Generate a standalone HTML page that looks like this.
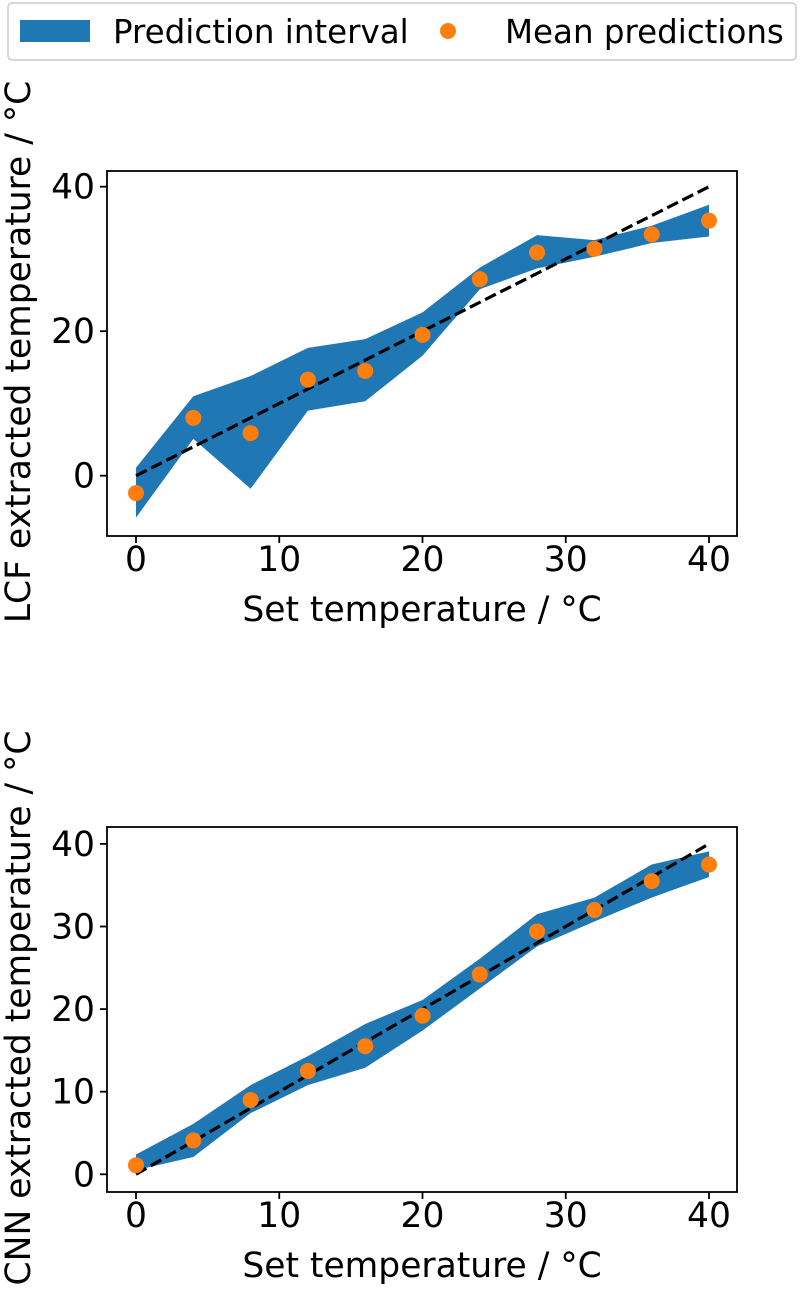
<!DOCTYPE html>
<html><head><meta charset="utf-8"><style>
body{margin:0;background:#fff;}
svg text{font-family:"DejaVu Sans","Liberation Sans",sans-serif;fill:#000;}
</style></head><body>
<svg id="chart" width="802" height="1293" xmlns="http://www.w3.org/2000/svg">
<g>
<rect x="8" y="3" width="788" height="57" rx="4" fill="#fff" stroke="#ccc" stroke-width="1.5"/>
<rect x="20" y="20" width="70" height="22" fill="#1f77b4"/>
<text x="113" y="43" font-size="32.5">Prediction interval</text>
<circle cx="448" cy="31" r="8" fill="#ff7f0e"/>
<text x="505" y="43" font-size="32.5">Mean predictions</text>
</g>
<g id="p1"></g>
<g id="p2"></g>
</svg>
<script>
const setTemps=[0,4,8,12,16,20,24,28,32,36,40];
const lcfMean=[-2.4,8.0,5.9,13.3,14.5,19.5,27.2,30.9,31.4,33.4,35.3];
const lcfUpper=[1.1,11.0,13.8,17.7,18.9,22.6,28.8,33.3,32.6,34.6,37.5];
const lcfLower=[-5.8,5.1,-1.8,9.0,10.3,16.6,25.8,28.7,30.3,32.2,33.1];
const cnnMean=[1.1,4.1,9.0,12.5,15.5,19.2,24.2,29.4,32.0,35.5,37.5];
const cnnUpper=[2.4,6.1,10.8,14.3,18.2,21.1,26.1,31.5,33.5,37.5,39.1];
const cnnLower=[0.5,2.1,7.4,10.8,12.9,17.4,22.5,27.6,30.6,33.5,36.0];
const xTicks=[0,10,20,30,40];
const lcfYTicks=[0,20,40];
const cnnYTicks=[0,10,20,30,40];
const NS="http://www.w3.org/2000/svg";
function mk(parent,tag,attrs){const e=document.createElementNS(NS,tag);for(const k in attrs)e.setAttribute(k,attrs[k]);parent.appendChild(e);return e;}
function panel(g,box,yZeroPx,yPerUnit,mean,upper,lower,yTicks,ylabel,ylabelCy,prefix){
  const X=v=>136+v*14.325, Y=v=>yZeroPx-v*yPerUnit;
  let pts=setTemps.map((t,i)=>X(t)+","+Y(upper[i]));
  for(let i=setTemps.length-1;i>=0;i--)pts.push(X(setTemps[i])+","+Y(lower[i]));
  const band=mk(g,"polygon",{points:pts.join(" "),fill:"#1f77b4"});
  
  
  const ref=mk(g,"line",{x1:X(0),y1:Y(0),x2:X(40),y2:Y(40),stroke:"#000","stroke-width":3.2,"stroke-dasharray":"12,5"});
  
  
  setTemps.forEach((t,i)=>{
    const c=mk(g,"circle",{cx:X(t),cy:Y(mean[i]),r:8,fill:"#ff7f0e"});
    
    
  });
  const fr=mk(g,"rect",{x:box.x,y:box.y,width:box.w,height:box.h,fill:"none",stroke:"#000","stroke-width":1.8});
  
  
  const bot=box.y+box.h;
  xTicks.forEach(t=>{
    const l=mk(g,"line",{x1:X(t),x2:X(t),y1:bot,y2:bot+7,stroke:"#000","stroke-width":1.8});
    
    
    const tx=mk(g,"text",{x:X(t),y:bot+35,"font-size":34.5,"text-anchor":"middle"});
    tx.textContent=t;
    
    
  });
  yTicks.forEach(t=>{
    const l=mk(g,"line",{x1:box.x-7,x2:box.x,y1:Y(t),y2:Y(t),stroke:"#000","stroke-width":1.8});
    
    
    const tx=mk(g,"text",{x:box.x-12,y:Y(t)+12,"font-size":34.5,"text-anchor":"end"});
    tx.textContent=t;
    
    
  });
  const xl=mk(g,"text",{x:422,y:bot+85,"font-size":34.5,"text-anchor":"middle"});
  xl.textContent="Set temperature / °C";
  
  
  const yl=mk(g,"text",{x:0,y:0,"font-size":34.5,"text-anchor":"middle",transform:"translate(30,"+ylabelCy+") rotate(-90)"});
  yl.textContent=ylabel;
  
  
}
panel(document.getElementById("p1"),{x:107,y:171,w:630,h:365},475.7,7.225,lcfMean,lcfUpper,lcfLower,lcfYTicks,"LCF extracted temperature / °C",352,"lcf");
panel(document.getElementById("p2"),{x:107,y:827,w:630,h:365},1174.3,8.26,cnnMean,cnnUpper,cnnLower,cnnYTicks,"CNN extracted temperature / °C",1008,"cnn");
</script>
</body></html>
